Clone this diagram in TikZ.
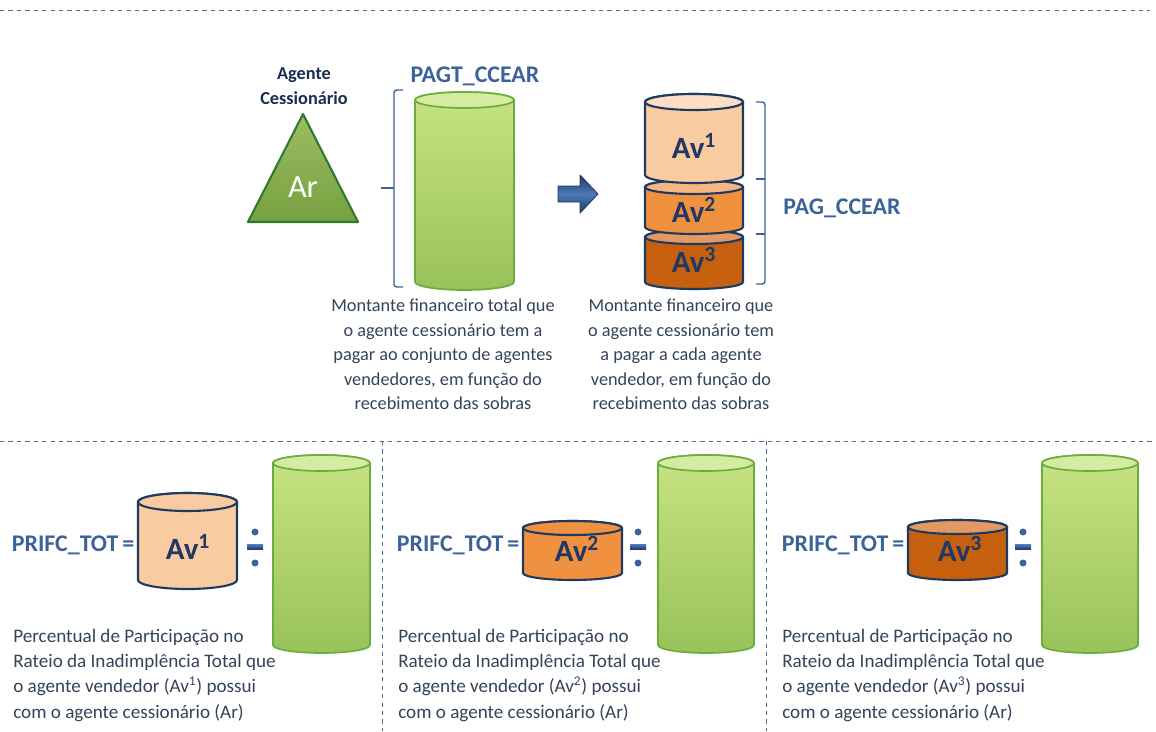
\documentclass[tikz,border=0pt]{standalone}
\usepackage{fontspec}
\setmainfont{Carlito}

\definecolor{verdeclaro}{HTML}{C8E383}
\definecolor{verdeescuro}{HTML}{98C25A}
\definecolor{verdetampa}{HTML}{D6EBA2}
\definecolor{verdeborda}{HTML}{6AAE3E}
\definecolor{oliva}{HTML}{9DBD62}
\definecolor{olivaescuro}{HTML}{76A040}
\definecolor{olivaborda}{HTML}{2F7A2E}
\definecolor{pessego}{HTML}{F8CBA1}
\definecolor{pessegotampa}{HTML}{FBDEC5}
\definecolor{laranja}{HTML}{F0913F}
\definecolor{laranjatampa}{HTML}{F6B682}
\definecolor{telha}{HTML}{C6600F}
\definecolor{telhatampa}{HTML}{E39A62}
\definecolor{azulborda}{HTML}{1F3A60}
\definecolor{azultitulo}{HTML}{3B639A}
\definecolor{azulnavy}{HTML}{1F3864}
\definecolor{azulseta}{HTML}{4C7AB4}
\definecolor{textocinza}{HTML}{33435A}
\definecolor{tracejado}{HTML}{4A6B9A}

% x1 x2 ytopo ybase raio corpo tampa
\newcommand{\cilindro}[7]{%
  \path[#6] (#1,#3) -- (#1,#4) arc[start angle=180, end angle=0, x radius={(#2-(#1))/2}, y radius=#5]
    -- (#2,#3) arc[start angle=0, end angle=-180, x radius={(#2-(#1))/2}, y radius=#5] -- cycle;
  \path[#7] ({(#1+#2)/2},#3) ellipse [x radius={(#2-(#1))/2}, y radius=#5];
}
% sinal de divisao: x y
\newcommand{\sinaldivisao}[2]{%
  \fill[top color=azulseta, bottom color=azulnavy] (#1-8,#2-2.5) rectangle (#1+8,#2+2.5);
  \fill[azultitulo] (#1,#2-15) circle (3.5) (#1,#2+16) circle (3.5);
}

\begin{document}
\begin{tikzpicture}[x=0.025cm, y=-0.025cm]
        \tikzstyle{tracejada} = [tracejado, dashed, line width=0.6pt]
        \tikzstyle{chave} = [azultitulo, line width=1pt, rounded corners=2pt]
        \tikzstyle{titulo_azul} = [text=azultitulo, font=\bfseries\fontsize{17}{20}\selectfont, inner sep=1pt]
        \tikzstyle{titulo_preto} = [text=azulnavy!80!black, font=\bfseries\fontsize{13}{17.5}\selectfont, align=center]
        \tikzstyle{texto} = [text=textocinza, font=\fontsize{13}{17.4}\selectfont, inner sep=0pt]
        \tikzstyle{texto_painel} = [text=textocinza, font=\fontsize{13.6}{17.9}\selectfont, inner sep=0pt, align=left, anchor=north west]
        \tikzstyle{rotulo_av} = [text=azulnavy, font=\bfseries\fontsize{22}{24}\selectfont]
        \tikzstyle{corpo_verde} = [draw=verdeborda, line width=1.2pt, top color=verdeclaro, bottom color=verdeescuro]
        \tikzstyle{tampa_verde} = [draw=verdeborda, line width=1.2pt, fill=verdetampa]
        \useasboundingbox (0,0) rectangle (1156,731);

        % separadores
        \draw[tracejada] (0,10) -- (1150,10);
        \draw[tracejada] (0,441) -- (1156,441);
        \draw[tracejada] (382,441) -- (382,731);
        \draw[tracejada] (766,441) -- (766,731);

        % agente cessionario
        \node (agente) [titulo_preto] at (304,86) {Agente\\Cessionário};
        \draw[olivaborda, line width=1.5pt, top color=oliva, bottom color=olivaescuro, line join=round] (303,114) -- (358,222) -- (248,222) -- cycle;
        \node (ar) [text=white, font=\fontsize{23}{25}\selectfont] at (303,187) {Ar};

        % montante total
        \node (pagt_ccear) [titulo_azul] at (475,76) {PAGT\_CCEAR};
        \draw[chave] (403,90) -- (394,90) -- (394,287) -- (403,287);
        \draw[chave] (394,188) -- (381,188);
        \cilindro{415}{514}{100}{282}{8}{corpo_verde}{tampa_verde}
        \node (txt_total) [texto, align=center, anchor=north] at (443,299) {Montante financeiro total que\\o agente cessionário tem a\\pagar ao conjunto de agentes\\vendedores, em função do\\recebimento das sobras};

        % seta
        \draw[azulnavy, line width=0.6pt, top color=azulnavy, bottom color=azulnavy, middle color=azulseta, line join=round]
          (558,186) -- (580,186) -- (580,175) -- (598,194) -- (580,213) -- (580,202) -- (558,202) -- cycle;

        % montante por vendedor
        \cilindro{645}{743}{237}{282}{7}{draw=azulborda, line width=1.5pt, fill=telha}{draw=azulborda, line width=1.5pt, fill=telhatampa}
        \cilindro{645}{743}{187}{227}{7}{draw=azulborda, line width=1.5pt, fill=laranja}{draw=azulborda, line width=1.5pt, fill=laranjatampa}
        \cilindro{645}{743}{102}{175}{8}{draw=azulborda, line width=1.5pt, fill=pessego}{draw=azulborda, line width=1.5pt, fill=pessegotampa}
        \node (av_um) [rotulo_av] at (694,146) {Av\textsuperscript{1}};
        \node (av_dois) [rotulo_av] at (694,210) {Av\textsuperscript{2}};
        \node (av_tres) [rotulo_av] at (694,260) {Av\textsuperscript{3}};
        \draw[chave] (756,102) -- (765,102) -- (765,284) -- (756,284);
        \draw[chave] (756,179) -- (765,179);
        \draw[chave] (756,234) -- (765,234);
        \node (pag_ccear) [titulo_azul] at (842,208) {PAG\_CCEAR};
        \node (txt_cada) [texto, align=center, anchor=north] at (681,299) {Montante financeiro que\\o agente cessionário tem\\a pagar a cada agente\\vendedor, em função do\\recebimento das sobras};

        % painel 1
        \node (prifc_um) [titulo_azul, anchor=east] at (136,545) {PRIFC\_TOT\,=};
        \cilindro{138}{237}{502}{580}{9}{draw=azulborda, line width=1.5pt, fill=pessego}{draw=azulborda, line width=1.5pt, fill=pessego}
        \node (av_um_b) [rotulo_av] at (188,547) {Av\textsuperscript{1}};
        \sinaldivisao{255}{547}
        \cilindro{273}{370}{463}{645}{8}{corpo_verde}{tampa_verde}
        \node (txt_um) [texto_painel] at (13,629) {Percentual de Participação no\\Rateio da Inadimplência Total que\\o agente vendedor (Av\textsuperscript{1}) possui\\com o agente cessionário (Ar)};

        % painel 2
        \node (prifc_dois) [titulo_azul, anchor=east] at (521,545) {PRIFC\_TOT\,=};
        \cilindro{523}{622}{528}{573}{7}{draw=azulborda, line width=1.5pt, fill=laranja}{draw=azulborda, line width=1.5pt, fill=laranja}
        \node (av_dois_b) [rotulo_av] at (577,549) {Av\textsuperscript{2}};
        \sinaldivisao{638}{547}
        \cilindro{658}{754}{463}{645}{8}{corpo_verde}{tampa_verde}
        \node (txt_dois) [texto_painel] at (398,629) {Percentual de Participação no\\Rateio da Inadimplência Total que\\o agente vendedor (Av\textsuperscript{2}) possui\\com o agente cessionário (Ar)};

        % painel 3
        \node (prifc_tres) [titulo_azul, anchor=east] at (906,545) {PRIFC\_TOT\,=};
        \cilindro{908}{1007}{527}{573}{7}{draw=azulborda, line width=1.5pt, fill=telha}{draw=azulborda, line width=1.5pt, fill=telhatampa}
        \node (av_tres_b) [rotulo_av] at (960,549) {Av\textsuperscript{3}};
        \sinaldivisao{1023}{547}
        \cilindro{1042}{1138}{463}{645}{8}{corpo_verde}{tampa_verde}
        \node (txt_tres) [texto_painel] at (782,629) {Percentual de Participação no\\Rateio da Inadimplência Total que\\o agente vendedor (Av\textsuperscript{3}) possui\\com o agente cessionário (Ar)};
    \end{tikzpicture}
\end{document}
